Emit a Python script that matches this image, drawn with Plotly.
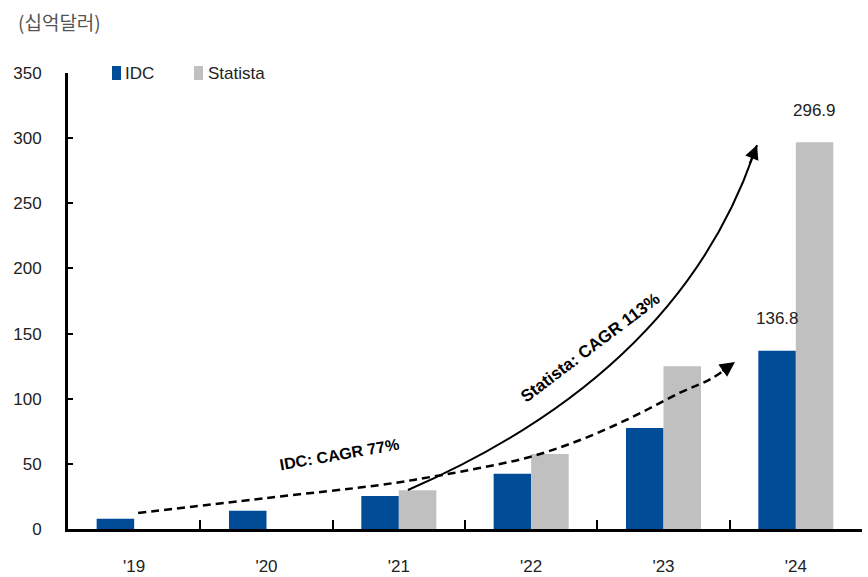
import plotly.graph_objects as go

# ---- data ----
years = ["'19", "'20", "'21", "'22", "'23", "'24"]
idc = [7.9, 14.0, 25.3, 42.4, 77.5, 136.8]
statista = [None, None, 29.7, 57.5, 125.0, 296.9]
series_names = ["IDC", "Statista"]
unit_label = "(십억달러)"
idc_note = "IDC: CAGR 77%"
statista_note = "Statista: CAGR 113%"

# decorative trend arrows (category index, value)
idc_curve_x = [0.03, 1.0, 1.86, 2.24, 2.61, 2.99, 3.37, 3.75, 4.12, 4.37, 4.54]
idc_curve_y = [12.3, 23.8, 33.8, 39.9, 46.8, 55.3, 68.3, 85.2, 104.4, 115.9, 128.2]
# cubic bezier control points for the Statista arrow
sta_bezier = [(2.069, 29.9), (4.276, 127.4), (4.616, 272.4), (4.707, 294.7)]

BLUE = "#004C97"
GRAY = "#C0C0C0"
FONT = "Liberation Sans, Arial, sans-serif"
TXT = "#222"
BARGAP = 0.433
PLOT_H = 456  # plot height in px (577 - 73 - 48)

fig = go.Figure()
fig.add_trace(go.Bar(x=years, y=idc, name=series_names[0], marker_color=BLUE,
                     marker_line_width=0))
fig.add_trace(go.Bar(x=years, y=statista, name=series_names[1], marker_color=GRAY,
                     marker_line_width=0))

fig.add_trace(go.Scatter(x=idc_curve_x, y=idc_curve_y, xaxis="x2", yaxis="y",
                         mode="lines", line=dict(color="black", width=2.5, dash="8px,5px",
                                                 shape="spline"),
                         hoverinfo="skip", showlegend=False))

p0, p1, p2, p3 = sta_bezier
sta_path = (f"M {p0[0]},{p0[1]} C {p1[0]},{p1[1]} {p2[0]},{p2[1]} {p3[0]},{p3[1]}")

annotations = []
# arrowheads
annotations.append(dict(x=idc_curve_x[-1], y=idc_curve_y[-1], xref="x2", yref="y",
                        ax=-14, ay=10, text="", showarrow=True, arrowhead=2,
                        arrowsize=1.2, arrowwidth=2.5, arrowcolor="black", standoff=0))
annotations.append(dict(x=p3[0], y=p3[1], xref="x2", yref="y",
                        ax=-8, ay=20, text="", showarrow=True, arrowhead=2,
                        arrowsize=1.4, arrowwidth=2, arrowcolor="black", standoff=0))
# curve labels
annotations.append(dict(x=1.55, y=57, xref="x2", yref="y", text="<b>" + idc_note + "</b>",
                        showarrow=False, textangle=-10,
                        font=dict(family=FONT, size=16, color="black")))
annotations.append(dict(x=3.45, y=139, xref="x2", yref="y", text="<b>" + statista_note + "</b>",
                        showarrow=False, textangle=-37,
                        font=dict(family=FONT, size=17, color="black")))
# value labels for final year
off = (1 - BARGAP) / 4
last = len(years) - 1
annotations.append(dict(x=last - off, y=idc[-1], xref="x2", yref="y", text=f"{idc[-1]:.1f}",
                        showarrow=False, yanchor="bottom", yshift=21,
                        font=dict(family=FONT, size=17, color=TXT)))
annotations.append(dict(x=last + off, y=statista[-1], xref="x2", yref="y",
                        text=f"{statista[-1]:.1f}", showarrow=False, yanchor="bottom", yshift=20,
                        font=dict(family=FONT, size=17, color=TXT)))
# unit label
annotations.append(dict(x=(16 - 68) / 794, y=1 + (73 - 21) / PLOT_H, xref="paper", yref="paper",
                        text=unit_label, showarrow=False, xanchor="left", yanchor="middle",
                        font=dict(family="Noto Sans CJK KR", size=19, color="#555")))
# manual legend text
annotations.append(dict(x=(123 - 68) / 794, y=1.0, xref="paper", yref="paper",
                        text=series_names[0], showarrow=False, xanchor="left", yanchor="middle",
                        font=dict(family=FONT, size=17, color=TXT)))
annotations.append(dict(x=(206 - 68) / 794, y=1.0, xref="paper", yref="paper",
                        text=series_names[1], showarrow=False, xanchor="left", yanchor="middle",
                        font=dict(family=FONT, size=17, color=TXT)))

shapes = [
    dict(type="path", xref="x2", yref="y", path=sta_path,
         line=dict(color="black", width=2)),
    dict(type="rect", xref="paper", yref="paper", x0=(112 - 68) / 794, x1=(121 - 68) / 794,
         y0=1 - 7 / PLOT_H, y1=1 + 7 / PLOT_H, fillcolor=BLUE, line_width=0),
    dict(type="rect", xref="paper", yref="paper", x0=(194 - 68) / 794, x1=(203 - 68) / 794,
         y0=1 - 7 / PLOT_H, y1=1 + 7 / PLOT_H, fillcolor=GRAY, line_width=0),
]

fig.update_layout(
    width=868, height=577,
    margin=dict(l=68, r=6, t=73, b=48, autoexpand=False),
    paper_bgcolor="white", plot_bgcolor="white",
    barmode="group", bargap=BARGAP, bargroupgap=0,
    showlegend=False,
    font=dict(family=FONT, size=17, color=TXT),
    xaxis=dict(type="category", tickson="boundaries", ticks="inside", ticklen=9,
               tickwidth=2, tickcolor="black", showline=True, linecolor="black",
               linewidth=3, showgrid=False, ticklabelstandoff=20, automargin=False,
               tickfont=dict(family=FONT, size=17, color=TXT), fixedrange=True),
    xaxis2=dict(overlaying="x", range=[-0.5, 5.5], visible=False, anchor="y"),
    yaxis=dict(range=[0, 350], dtick=50, ticks="inside", ticklen=5, tickwidth=2,
               tickcolor="black", showline=True, linecolor="black", linewidth=3,
               showgrid=False, zeroline=False, ticklabelstandoff=20, automargin=False,
               tickfont=dict(family=FONT, size=17, color=TXT)),
    annotations=annotations,
    shapes=shapes,
)

fig.write_html("out.html",
               config={"displayModeBar": False},
               post_script="document.body.style.margin='0';"
                           "document.body.style.overflow='hidden';")
